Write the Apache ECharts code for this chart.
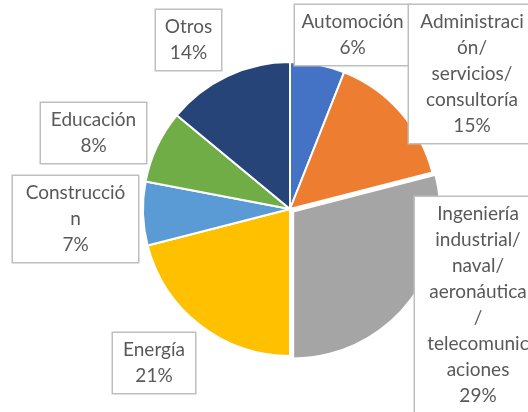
<!DOCTYPE html>
<html>
<head>
<meta charset="utf-8">
<script src="https://cdn.jsdelivr.net/npm/echarts@6/dist/echarts.min.js"></script>
<style>
  html, body { margin: 0; padding: 0; background: #fff; }
  #main { width: 528px; height: 412px; }
</style>
</head>
<body>
<div id="main"></div>
<script>
// sectores (en el orden del gráfico, empezando arriba y en sentido horario)
var categories = ['Automoción', 'Administración/ servicios/ consultoría',
  'Ingeniería industrial/ naval/ aeronáutica/ telecomunicaciones',
  'Energía', 'Construcción', 'Educación', 'Otros'];
var values = [6, 15, 29, 21, 7, 8, 14];
// texto de las etiquetas tal como se corta en el original
var labelText = ['Automoción', 'Administraci\nón/\nservicios/\nconsultoría',
  'Ingeniería\nindustrial/\nnaval/\naeronáutica\n/\ntelecomunic\naciones',
  'Energía', 'Construcció\nn', 'Educación', 'Otros'];
var colors = ['#4472C4', '#ED7D31', '#A5A5A5', '#FFC000', '#5B9BD5', '#70AD47', '#264478'];
var explodedIndex = 2; // sector separado del resto

// cajas de etiqueta: centro x, borde superior y, ancho
var boxes = [
  [352.5, 5, 115],
  [472, 5, 126],
  [478, 197, 126],
  [154, 333, 82],
  [75.5, 176, 125],
  [93.5, 103, 105],
  [188.5, 10, 65]
];

var cx = 290, cy = 209, R = 147, offset = 4;

// ángulo medio del sector separado para desplazar su centro
var total = 0, before = 0;
for (var i = 0; i < values.length; i++) {
  total += values[i];
  if (i < explodedIndex) before += values[i];
}
var mid = (before + values[explodedIndex] / 2) / total * 2 * Math.PI;
var dx = Math.sin(mid) * offset, dy = -Math.cos(mid) * offset;

var mainData = [], explodedData = [];
for (var i = 0; i < values.length; i++) {
  var isEx = i === explodedIndex;
  mainData.push({
    name: categories[i],
    value: values[i],
    itemStyle: isEx ? { color: 'rgba(0,0,0,0)', borderWidth: 0 } : { color: colors[i] },
    label: { width: boxes[i][2] - 12 }
  });
  explodedData.push({
    name: categories[i],
    value: values[i],
    itemStyle: { color: isEx ? colors[i] : 'rgba(0,0,0,0)', borderWidth: isEx ? 2 : 0 }
  });
}

var chart = echarts.init(document.getElementById('main'));
var option = {
  animation: false,
  series: [{
    type: 'pie',
    z: 1,
    silent: true,
    center: [cx + dx, cy + dy],
    radius: R,
    startAngle: 90,
    itemStyle: { borderColor: '#fff' },
    label: { show: false },
    labelLine: { show: false },
    data: explodedData
  }, {
    type: 'pie',
    z: 2,
    center: [cx, cy],
    radius: R,
    startAngle: 90,
    clockwise: true,
    itemStyle: { borderColor: '#fff', borderWidth: 2 },
    emphasis: { disabled: true },
    label: {
      show: true,
      formatter: function (p) {
        return labelText[p.dataIndex] + '\n' + p.value + '%';
      },
      fontFamily: 'Lato',
      fontSize: 19,
      lineHeight: 26,
      color: '#595959',
      backgroundColor: '#fff',
      borderColor: '#BFBFBF',
      borderWidth: 1.5,
      padding: [4, 6],
      align: 'center',
      overflow: 'none'
    },
    labelLine: { show: false },
    labelLayout: function (p) {
      var b = boxes[p.dataIndex];
      return { x: b[0], y: b[1], align: 'center', verticalAlign: 'top' };
    },
    data: mainData
  }]
};
chart.setOption(option);
</script>
</body>
</html>
